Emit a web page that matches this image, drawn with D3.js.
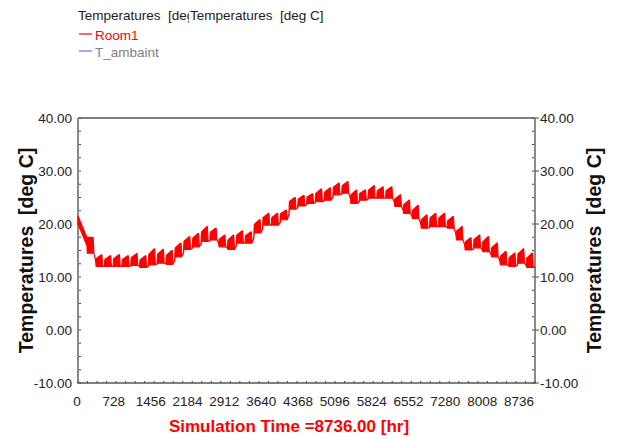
<!DOCTYPE html>
<html>
<head>
<meta charset="utf-8">
<script src="https://cdn.jsdelivr.net/npm/d3@7"></script>
<style>
  body { margin: 0; background: #fff; }
  svg { display: block; font-family: "Liberation Sans", Arial, sans-serif; }
  svg text { white-space: pre; }
</style>
</head>
<body>
<svg id="chart" width="617" height="439"></svg>
<script>
// Weekly envelope of Room1 temperature (deg C), 52 weeks of 168 hr
const weekHigh = [21.5, 17.5, 14.2, 14.0, 14.2, 14.0, 14.4, 14.0, 15.3, 15.2, 15.0, 16.4, 17.6,
  18.2, 19.5, 19.2, 17.9, 17.9, 18.7, 18.5, 20.8, 22.0, 22.0, 22.6, 25.0, 25.4,
  25.7, 26.6, 26.8, 27.7, 28.0, 26.4, 26.4, 27.2, 27.0, 27.0, 25.5, 24.5, 23.5,
  21.7, 22.0, 22.0, 21.4, 19.5, 17.4, 17.9, 17.6, 16.4, 14.8, 14.5, 15.3, 14.5];
const weekLow = [19.0, 14.5, 12.0, 12.0, 12.0, 12.0, 12.2, 11.8, 12.3, 12.6, 12.4, 13.8, 15.2,
  15.7, 16.7, 17.0, 15.7, 15.2, 16.4, 16.4, 18.3, 19.8, 19.8, 20.8, 22.8, 23.4,
  23.9, 24.2, 24.5, 25.5, 25.8, 23.9, 24.5, 24.9, 24.9, 24.9, 23.3, 22.0, 21.0,
  19.2, 19.5, 19.5, 19.2, 17.0, 15.1, 15.5, 14.8, 13.8, 12.3, 12.0, 12.6, 11.8];
const startValue = 21.5;
const weekHours = 168;

const xTicks = [0, 728, 1456, 2184, 2912, 3640, 4368, 5096, 5824, 6552, 7280, 8008, 8736];
const yTicks = [-10, 0, 10, 20, 30, 40];
const seriesNames = ["Room1", "T_ambaint"];
const seriesColors = ["#ff0000", "#6b6bff"];
const legendTitle = "Temperatures  [deg C]";
const yTitle = "Temperatures  [deg C]";
const xTitle = "Simulation Time =8736.00 [hr]";

const svg = d3.select("#chart");
const plotL = 78, plotR = 535, plotT = 118, plotB = 383;

const x = d3.scaleLinear().domain([0, 8736]).range([plotL, plotR]);
const y = d3.scaleLinear().domain([-10, 40]).range([plotB, plotT]);
// tick labels in the original sit slightly left of their ticks
const xLabel = d3.scaleLinear().domain([0, 8736]).range([77, 519]);

// Legend (the first title is cut off by the second, as in the original)
svg.append("clipPath").attr("id", "legclip")
  .append("rect").attr("x", 0).attr("y", 0).attr("width", 189).attr("height", 30);
svg.append("text")
  .attr("x", 78).attr("y", 20)
  .attr("clip-path", "url(#legclip)")
  .attr("font-size", "13.5px").attr("fill", "#222")
  .text("Temperatures  [deg");
svg.append("text")
  .attr("x", 190).attr("y", 20)
  .attr("font-size", "13.5px").attr("fill", "#222")
  .text(legendTitle);

seriesNames.forEach((name, i) => {
  const ly = 34 + i * 17;
  svg.append("line")
    .attr("x1", 79).attr("x2", 92).attr("y1", ly).attr("y2", ly)
    .attr("stroke", seriesColors[i]).attr("stroke-width", 1.2);
  svg.append("text")
    .attr("x", 95).attr("y", ly + 5.5)
    .attr("font-size", "13.5px")
    .attr("fill", i === 0 ? "#ff0000" : "#808080")
    .text(name);
});

// Frame
svg.append("line").attr("x1", plotL).attr("x2", plotR).attr("y1", plotT).attr("y2", plotT)
  .attr("stroke", "#000").attr("stroke-width", 1);
svg.append("line").attr("x1", plotL).attr("x2", plotR).attr("y1", plotB).attr("y2", plotB)
  .attr("stroke", "#000").attr("stroke-width", 1);
svg.append("line").attr("x1", plotL).attr("x2", plotL).attr("y1", plotT).attr("y2", plotB + 1)
  .attr("stroke", "#8a8a8a").attr("stroke-width", 2);
svg.append("line").attr("x1", plotR).attr("x2", plotR).attr("y1", plotT).attr("y2", plotB + 1)
  .attr("stroke", "#8a8a8a").attr("stroke-width", 2);

// Minor ticks
const yMinor = d3.range(-10, 40.01, 2.5);
svg.append("g").selectAll("line").data(yMinor).join("line")
  .attr("x1", plotL + 1).attr("x2", plotL + 3)
  .attr("y1", d => y(d)).attr("y2", d => y(d))
  .attr("stroke", "#444").attr("stroke-width", 1);
svg.append("g").selectAll("line").data(yMinor).join("line")
  .attr("x1", plotR - 3).attr("x2", plotR - 1)
  .attr("y1", d => y(d)).attr("y2", d => y(d))
  .attr("stroke", "#444").attr("stroke-width", 1);
svg.append("g").selectAll("line").data(yTicks).join("line")
  .attr("x1", plotR).attr("x2", plotR + 4)
  .attr("y1", d => y(d)).attr("y2", d => y(d))
  .attr("stroke", "#444").attr("stroke-width", 1);
const xMinor = d3.range(0, 8736.01, 182);
svg.append("g").selectAll("line").data(xMinor).join("line")
  .attr("x1", d => x(d)).attr("x2", d => x(d))
  .attr("y1", plotB - 2).attr("y2", plotB)
  .attr("stroke", "#444").attr("stroke-width", 1);

// Tick labels
svg.append("g").selectAll("text").data(yTicks).join("text")
  .attr("x", 72).attr("y", d => y(d)).attr("dy", "0.35em")
  .attr("text-anchor", "end").attr("font-size", "13.5px").attr("fill", "#222")
  .text(d => d.toFixed(2));
svg.append("g").selectAll("text").data(yTicks).join("text")
  .attr("x", 540).attr("y", d => y(d)).attr("dy", "0.35em")
  .attr("text-anchor", "start").attr("font-size", "13.5px").attr("fill", "#222")
  .text(d => d.toFixed(2));
svg.append("g").selectAll("text").data(xTicks).join("text")
  .attr("x", d => xLabel(d)).attr("y", 406)
  .attr("text-anchor", "middle").attr("font-size", "13.5px").attr("fill", "#222")
  .text(d => d);

// Axis titles
svg.append("text")
  .attr("transform", `translate(33,${(plotT + plotB) / 2}) rotate(-90)`)
  .attr("text-anchor", "middle").attr("font-size", "19.5px").attr("font-weight", "bold")
  .attr("fill", "#111").text(yTitle);
svg.append("text")
  .attr("transform", `translate(601,${(plotT + plotB) / 2}) rotate(-90)`)
  .attr("text-anchor", "middle").attr("font-size", "19.5px").attr("font-weight", "bold")
  .attr("fill", "#111").text(yTitle);
svg.append("text")
  .attr("x", 289).attr("y", 432)
  .attr("text-anchor", "middle").attr("font-size", "17px").attr("font-weight", "bold")
  .attr("fill", "#ff0000").text(xTitle);

// Room1 series: one block per week (heated weekdays climb to the high, weekend drops to the low)
const area = d3.area().x(d => x(d[0])).y0(d => y(d[1])).y1(d => y(d[2]));
const blocks = weekHigh.map((hi, w) => {
  const t0 = w * weekHours, t1 = (w + 1) * weekHours;
  const lo = weekLow[w];
  const loNext = w < weekLow.length - 1 ? (weekLow[w + 1] + lo) / 2 : lo;
  const loPrev = w > 0 ? (weekLow[w - 1] + lo) / 2 : lo;
  if (w === 0) {
    // first week: cooling down from the initial temperature
    return [
      [t0, lo + 1, startValue],
      [t1, weekLow[1] + 1.5, weekHigh[1]]
    ];
  }
  const rise = hi - 0.35 * (hi - lo);
  return [
    [t0, loPrev, w === 1 ? hi : loPrev],
    [t0 + 0.06 * weekHours, lo, w === 1 ? hi : rise],
    [t0 + 0.66 * weekHours, lo, hi],
    [t0 + 0.72 * weekHours, lo, hi],
    [t0 + 0.8 * weekHours, lo, lo],
    [t1, loNext, loNext]
  ];
});
svg.append("g").selectAll("path").data(blocks).join("path")
  .attr("d", area)
  .attr("fill", "#ff0000")
  .attr("stroke", "#ff0000")
  .attr("stroke-width", 1.2)
  .attr("stroke-linejoin", "round");
</script>
</body>
</html>
